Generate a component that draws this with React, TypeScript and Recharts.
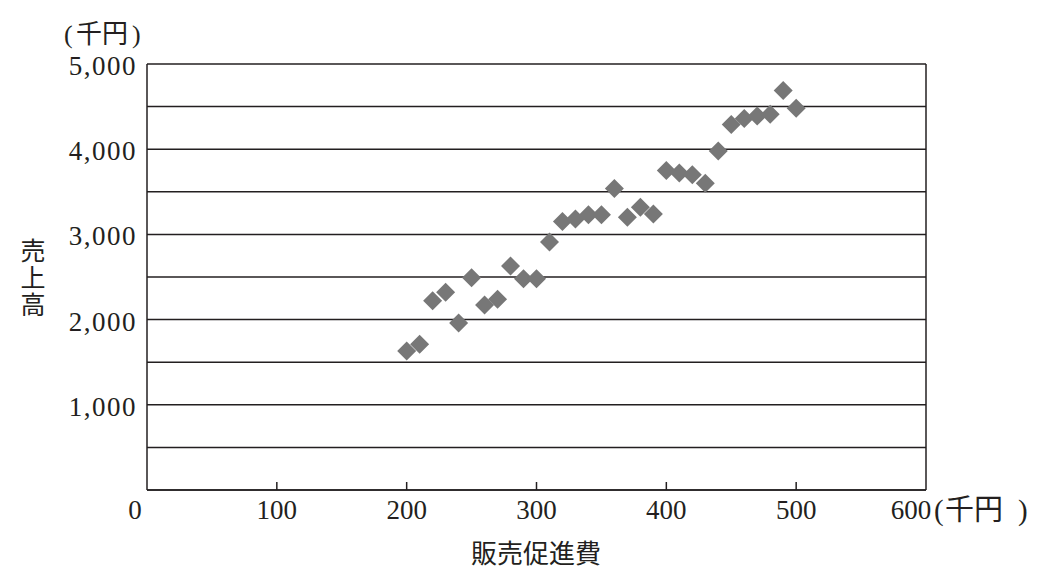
import React from "react";
import {
  ScatterChart,
  Scatter,
  XAxis,
  YAxis,
  CartesianGrid,
  ReferenceLine,
  Label,
} from "recharts";

// 販売促進費 (千円)
const promoCost = [
  200, 210, 220, 230, 240, 250, 260, 270, 280, 290, 300, 310, 320, 330, 340, 350,
  360, 370, 380, 390, 400, 410, 420, 430, 440, 450, 460, 470, 480, 490, 500,
];
// 売上高 (千円)
const salesAmount = [
  1630, 1710, 2220, 2320, 1960, 2490, 2170, 2240, 2630, 2480, 2480, 2910, 3150, 3180, 3230, 3230,
  3540, 3200, 3320, 3240, 3750, 3720, 3700, 3600, 3980, 4290, 4360, 4390, 4410, 4690, 4480,
];

const xTicks = [0, 100, 200, 300, 400, 500, 600];
const yTicks = [0, 500, 1000, 1500, 2000, 2500, 3000, 3500, 4000, 4500, 5000];

const data = promoCost.map((x, i) => ({ x, y: salesAmount[i] }));

const FONT = "'Liberation Serif', 'Noto Sans CJK JP', serif";
const INK = "#231f20";

const XTick = (props: any) => {
  const { x, y, payload } = props;
  const v = payload.value;
  const shift = v === 0 ? -12 : v === 600 ? -15 : 0;
  return (
    <g>
      {v !== 0 && v !== 600 && (
        <line x1={x} y1={y} x2={x} y2={y - 8} stroke={INK} strokeWidth={1.5} />
      )}
      <text x={x + shift} y={y + 29} textAnchor="middle" fontSize={27} fontFamily={FONT} fill={INK}>
        {v}
      </text>
    </g>
  );
};

const YTick = (props: any) => {
  const { x, y, payload } = props;
  const v = payload.value;
  if (v === 0 || v % 1000 !== 0) return <g />;
  return (
    <text
      x={x - 10}
      y={y + 11}
      textAnchor="end"
      fontSize={27}
      letterSpacing={1.5}
      fontFamily={FONT}
      fill={INK}
    >
      {v.toLocaleString("en-US")}
    </text>
  );
};

const Diamond = (props: any) => {
  const { cx, cy } = props;
  const r = 9.5;
  return (
    <polygon
      points={`${cx},${cy - r} ${cx + r},${cy} ${cx},${cy + r} ${cx - r},${cy}`}
      fill="#777777"
    />
  );
};

// unit label "(千円)" with the brackets placed apart, as in the print
const Unit = (p: { x: number; y: number; gap: number; w: number; size: number }) => (
  <text y={p.y} fontSize={p.size}>
    <tspan x={p.x}>(</tspan>
    <tspan x={p.x + p.gap}>千円</tspan>
    <tspan x={p.x + p.w}>)</tspan>
  </text>
);

const titles = () => (
  <g fontFamily={FONT} fill={INK}>
    <Unit x={64} y={43} gap={12} w={68} size={26} />
    <Unit x={934} y={520} gap={11} w={84} size={29} />
    <text x={536} y={563} textAnchor="middle" fontSize={26}>販売促進費</text>
    <text x={33} y={260} textAnchor="middle" fontSize={25}>売</text>
    <text x={33} y={287} textAnchor="middle" fontSize={25}>上</text>
    <text x={33} y={314} textAnchor="middle" fontSize={25}>高</text>
  </g>
);

export default function App() {
  return (
    <div style={{ position: "absolute", left: 0, top: 0, background: "#fff" }}>
      <ScatterChart
        width={1045}
        height={588}
        margin={{ top: 64, right: 119, bottom: 58, left: 47 }}
      >
        <CartesianGrid vertical={false} stroke={INK} strokeWidth={1.5} />
        <XAxis
          type="number"
          dataKey="x"
          domain={[0, 600]}
          ticks={xTicks}
          height={40}
          tickSize={0}
          tickMargin={0}
          tick={<XTick />}
          axisLine={{ stroke: INK, strokeWidth: 1.5 }}
          interval={0}
        >
          <Label content={titles} />
        </XAxis>
        <YAxis
          type="number"
          dataKey="y"
          domain={[0, 5000]}
          ticks={yTicks}
          width={100}
          tickSize={0}
          tickMargin={0}
          tick={<YTick />}
          axisLine={{ stroke: INK, strokeWidth: 1.5 }}
          interval={0}
        />
        <ReferenceLine x={600} stroke={INK} strokeWidth={1.5} />
        <Scatter data={data} shape={<Diamond />} isAnimationActive={false} />
      </ScatterChart>
    </div>
  );
}
